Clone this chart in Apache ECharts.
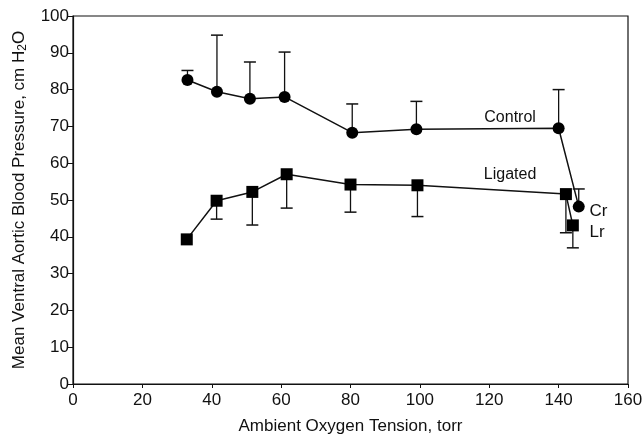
<!DOCTYPE html>
<html>
<head>
<meta charset="utf-8">
<script src="https://cdn.jsdelivr.net/npm/echarts@6/dist/echarts.min.js"></script>
<style>
  html, body { margin: 0; padding: 0; background: #fff; }
  #chart { width: 644px; height: 437px; }
</style>
</head>
<body>
<div id="chart"></div>
<script>
// data
var controlX   = [33, 41.5, 51, 61, 80.5, 99, 140];
var controlY   = [82.6, 79.4, 77.5, 78, 68.3, 69.2, 69.5];
var controlErr = [85.2, 94.8, 87.5, 90.2, 76.1, 76.8, 80];
var crPoint    = [145.8, 48.2];
var crErr      = 53;

var ligatedX   = [32.8, 41.4, 51.7, 61.6, 80, 99.3, 142.1];
var ligatedY   = [39.3, 49.8, 52.2, 57, 54.2, 54, 51.6];
var ligatedErr = [null, 44.8, 43.2, 47.8, 46.7, 45.5, 41.1];
var lrPoint    = [144.1, 43.1];
var lrErr      = 37;

var xTicks = [0, 20, 40, 60, 80, 100, 120, 140, 160];
var yTicks = [0, 10, 20, 30, 40, 50, 60, 70, 80, 90, 100];

var font = 'Liberation Sans, Arial, Helvetica, sans-serif';

function pairs(xs, ys) {
  return xs.map(function (x, i) { return [x, ys[i]]; });
}

// error bars: [x, mean, end]
var errData = [];
controlX.forEach(function (x, i) { errData.push([x, controlY[i], controlErr[i]]); });
errData.push([crPoint[0], crPoint[1], crErr]);
ligatedX.forEach(function (x, i) {
  if (ligatedErr[i] != null) errData.push([x, ligatedY[i], ligatedErr[i]]);
});
errData.push([lrPoint[0], lrPoint[1], lrErr]);

var chart = echarts.init(document.getElementById('chart'));

chart.setOption({
  animation: false,
  backgroundColor: '#fff',
  grid: {
    left: 73, right: 16, top: 16, bottom: 53,
    outerBoundsMode: 'none',
    show: true, borderColor: '#111', borderWidth: 1.2
  },
  xAxis: {
    type: 'value', min: 0, max: 160, interval: 20,
    name: 'Ambient Oxygen Tension, torr',
    nameLocation: 'middle', nameGap: 34,
    nameTextStyle: { fontFamily: font, fontSize: 17, color: '#111' },
    axisLine: { lineStyle: { color: '#111', width: 1.2 } },
    axisTick: { show: true, inside: false, length: 4, lineStyle: { color: '#111' } },
    axisLabel: { fontFamily: font, fontSize: 17, color: '#111', margin: 8,
      formatter: function (v) { return xTicks.indexOf(v) >= 0 ? String(v) : ''; } },
    splitLine: { show: false }
  },
  yAxis: {
    type: 'value', min: 0, max: 100, interval: 10,
    name: 'Mean Ventral Aortic Blood Pressure, cm H{sub|2}O',
    nameLocation: 'middle', nameGap: 44, nameRotate: 90,
    nameTextStyle: { fontFamily: font, fontSize: 17, color: '#111',
      rich: { sub: { fontFamily: font, fontSize: 12, color: '#111', verticalAlign: 'bottom', padding: [7, 0, 0, 0] } } },
    axisLine: { show: true, lineStyle: { color: '#111', width: 1.2 } },
    axisTick: { show: true, inside: false, length: 5, lineStyle: { color: '#111' } },
    axisLabel: { fontFamily: font, fontSize: 17, color: '#111', margin: 4,
      formatter: function (v) { return yTicks.indexOf(v) >= 0 ? String(v) : ''; } },
    splitLine: { show: false }
  },
  series: [
    {
      type: 'custom',
      name: 'errors',
      data: errData,
      z: 1,
      renderItem: function (params, api) {
        var x = api.value(0);
        var p0 = api.coord([x, api.value(1)]);
        var p1 = api.coord([x, api.value(2)]);
        var hw = 6;
        return {
          type: 'group',
          children: [
            { type: 'line', shape: { x1: p0[0], y1: p0[1], x2: p1[0], y2: p1[1] },
              style: { stroke: '#111', lineWidth: 1.3 } },
            { type: 'line', shape: { x1: p1[0] - hw, y1: p1[1], x2: p1[0] + hw, y2: p1[1] },
              style: { stroke: '#111', lineWidth: 1.5 } }
          ]
        };
      }
    },
    {
      type: 'line', name: 'Control',
      data: pairs(controlX, controlY).concat([crPoint]),
      symbol: 'circle', symbolSize: 12,
      itemStyle: { color: '#000' },
      lineStyle: { color: '#111', width: 1.5 },
      z: 3,
      markPoint: {
        symbol: 'rect', symbolSize: 1,
        itemStyle: { color: 'transparent' },
        label: { show: true, fontFamily: font, fontSize: 16, color: '#111' },
        data: [
          { coord: [126, 72.5], value: 'Control', label: { formatter: 'Control', position: 'inside' } },
          { coord: [147.3, 47], value: 'Cr', label: { formatter: 'Cr', position: 'right', fontSize: 17 } }
        ]
      }
    },
    {
      type: 'line', name: 'Ligated',
      data: pairs(ligatedX, ligatedY).concat([lrPoint]),
      symbol: 'rect', symbolSize: 12,
      itemStyle: { color: '#000' },
      lineStyle: { color: '#111', width: 1.5 },
      z: 3,
      markPoint: {
        symbol: 'rect', symbolSize: 1,
        itemStyle: { color: 'transparent' },
        label: { show: true, fontFamily: font, fontSize: 16, color: '#111' },
        data: [
          { coord: [126, 56.8], value: 'Ligated', label: { formatter: 'Ligated', position: 'inside' } },
          { coord: [147.3, 41.3], value: 'Lr', label: { formatter: 'Lr', position: 'right', fontSize: 17 } }
        ]
      }
    }
  ]
});
</script>
</body>
</html>
